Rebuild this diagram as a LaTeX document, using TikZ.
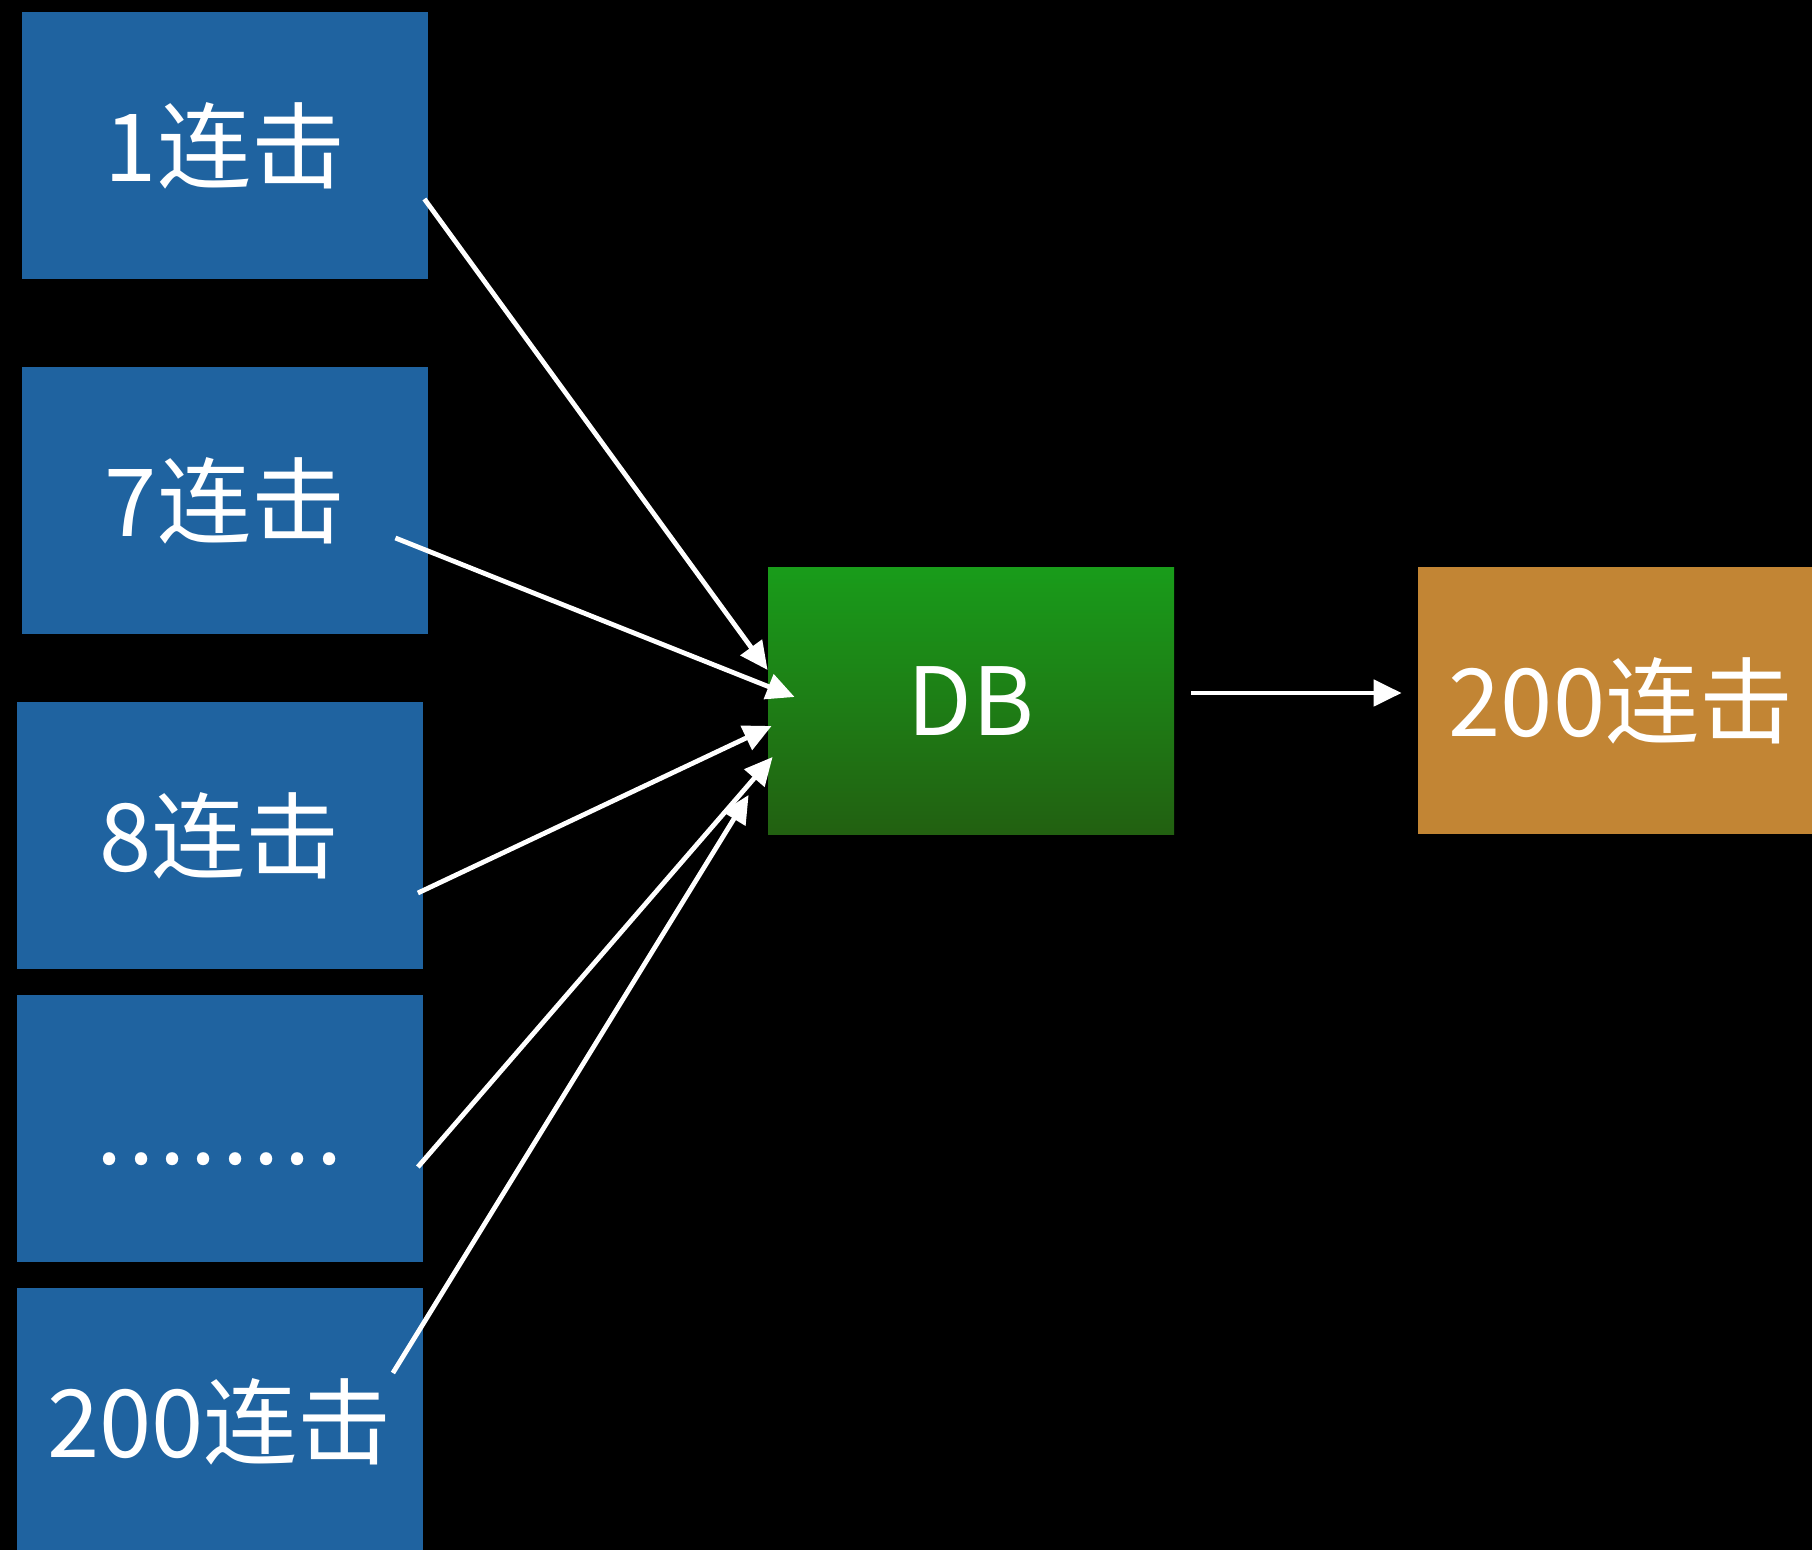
\documentclass[tikz,border=0pt]{standalone}
\usepackage{fontspec}
\newfontfamily\cjk{Noto Sans CJK SC}
\usetikzlibrary{arrows.meta,calc,shadings}
\definecolor{boxblue}{RGB}{31,99,160}
\definecolor{dbtop}{RGB}{25,156,26}
\definecolor{dbbot}{RGB}{34,96,17}
\definecolor{outorange}{RGB}{194,133,52}
\newcommand{\dk}{.\kern2.6pt}
\begin{document}
\begin{tikzpicture}[x=0.5pt,y=-0.5pt,
  card/.style={minimum width=203pt,minimum height=133.5pt,inner sep=0pt,text=white,
    font=\cjk\fontsize{47}{50}\selectfont},
  srcbox/.style={card,fill=boxblue},
  dbbox/.style={card,top color=dbtop,bottom color=dbbot},
  outbox/.style={card,fill=outorange},
  arr/.style={draw=white,line width=2.4pt,-{Triangle[length=14pt,width=13pt]}}]
\fill[black] (0,0) rectangle (1812,1550);
\useasboundingbox (0,0) rectangle (1812,1550);
\clip (0,0) rectangle (1812,1550);
\node[srcbox] (b1) at (225,145.5) {1连击};
\node[srcbox] (b2) at (225,501) {7连击};
\node[srcbox] (b3) at (219.5,835.5) {8连击};
\node[srcbox] (b4) at (219.5,1128.5) {\vphantom{连}\dk\dk\dk\dk\dk\dk\dk.};
\node[srcbox] (b5) at (219.5,1421.5) {200连击};
\node[dbbox] (db) at (971,701) {DB};
\node[outbox] (out) at (1621,701) {200连击};
\coordinate (s1) at ($(b1.east)+(-4,53.5)$);
\coordinate (s2) at ($(b2.east)+(-33,37)$);
\coordinate (s3) at ($(b3.east)+(-5,57.5)$);
\coordinate (s4) at ($(b4.east)+(-5,38.5)$);
\coordinate (s5) at ($(b5.east)+(-30,-48.5)$);
\coordinate (t1) at ($(db.west)+(0,-31)$);
\coordinate (t2) at ($(db.west)+(27,-4)$);
\coordinate (t3) at ($(db.west)+(4,25)$);
\coordinate (t4) at ($(db.west)+(5,56)$);
\coordinate (t5) at ($(db.west)+(-19,94)$);
\coordinate (s6) at ($(db.east)+(17,-8)$);
\coordinate (t6) at ($(out.west)+(-16,-8)$);
\draw[arr] (s1) -- (t1);
\draw[arr] (s2) -- (t2);
\draw[arr] (s3) -- (t3);
\draw[arr] (s4) -- (t4);
\draw[arr] (s5) -- (t5);
\draw[arr] (s6) -- (t6);
\end{tikzpicture}
\end{document}
